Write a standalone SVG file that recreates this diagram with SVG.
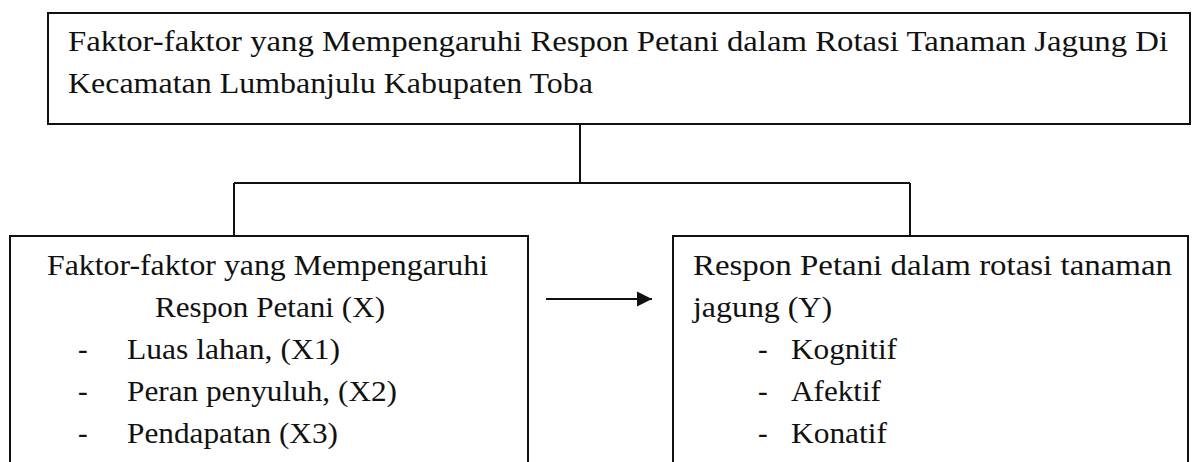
<svg xmlns="http://www.w3.org/2000/svg" width="1192" height="462" viewBox="0 0 1192 462">
<defs>
<style>
.box{fill:#fff;stroke:#111;stroke-width:2}
.ln{fill:none;stroke:#111;stroke-width:2}
.t{font-family:"Liberation Serif","Times New Roman",serif;font-size:29px;fill:#111}
</style>
<marker id="ah" markerWidth="16" markerHeight="16" refX="15" refY="8" orient="auto" markerUnits="userSpaceOnUse">
<path d="M0,0.5 L15,8 L0,15.5 Z" fill="#111"/>
</marker>
</defs>
<rect width="1192" height="462" fill="#fff"/>
<g id="connectors">
<path class="ln" d="M580,124 V183 M234,183 H910 M234,183 V236 M910,183 V236"/>
<path class="ln" d="M546,299 H652" marker-end="url(#ah)"/>
</g>
<g id="top">
<rect class="box" x="48" y="13" width="1142" height="111"/>
<text class="t" x="68" y="51" textLength="1100" lengthAdjust="spacingAndGlyphs">Faktor-faktor yang Mempengaruhi Respon Petani dalam Rotasi Tanaman Jagung Di</text>
<text class="t" x="68" y="93" textLength="525" lengthAdjust="spacingAndGlyphs">Kecamatan Lumbanjulu Kabupaten Toba</text>
</g>
<g id="factors">
<rect class="box" x="10" y="236" width="518" height="240"/>
<text class="t" x="47" y="275" textLength="441" lengthAdjust="spacingAndGlyphs">Faktor-faktor yang Mempengaruhi</text>
<text class="t" x="155" y="317" textLength="230" lengthAdjust="spacingAndGlyphs">Respon Petani (X)</text>
<text class="t" x="78" y="359">-</text>
<text class="t" x="127" y="359" textLength="213" lengthAdjust="spacingAndGlyphs">Luas lahan, (X1)</text>
<text class="t" x="78" y="401">-</text>
<text class="t" x="127" y="401" textLength="270" lengthAdjust="spacingAndGlyphs">Peran penyuluh, (X2)</text>
<text class="t" x="78" y="443">-</text>
<text class="t" x="127" y="443" textLength="211" lengthAdjust="spacingAndGlyphs">Pendapatan (X3)</text>
</g>
<g id="response">
<rect class="box" x="673" y="236" width="515" height="240"/>
<text class="t" x="693" y="275" textLength="479" lengthAdjust="spacingAndGlyphs">Respon Petani dalam rotasi tanaman</text>
<text class="t" x="693" y="317" textLength="139" lengthAdjust="spacingAndGlyphs">jagung (Y)</text>
<text class="t" x="758" y="359">-</text>
<text class="t" x="791" y="359" textLength="106" lengthAdjust="spacingAndGlyphs">Kognitif</text>
<text class="t" x="758" y="401">-</text>
<text class="t" x="791" y="401" textLength="90" lengthAdjust="spacingAndGlyphs">Afektif</text>
<text class="t" x="758" y="443">-</text>
<text class="t" x="791" y="443" textLength="96" lengthAdjust="spacingAndGlyphs">Konatif</text>
</g>
</svg>
